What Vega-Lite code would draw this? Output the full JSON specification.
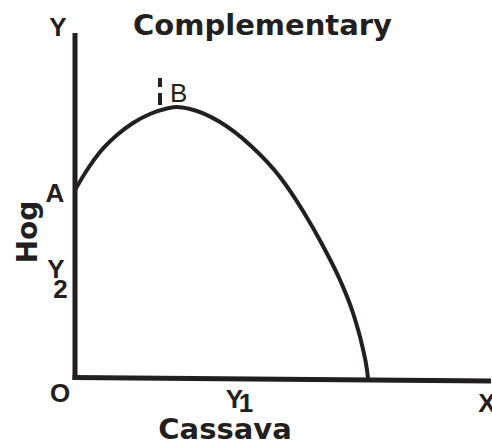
{
  "$schema": "https://vega.github.io/schema/vega-lite/v6.json",
  "width": 492,
  "height": 443,
  "autosize": {"type": "none"},
  "padding": 0,
  "background": "white",
  "config": {"view": {"stroke": null}},
  "layer": [
    {
      "data": {"values": [
        {"x": 0, "y": 188, "o": 0},
        {"x": 12, "y": 208, "o": 1},
        {"x": 25, "y": 226, "o": 2},
        {"x": 42, "y": 243, "o": 3},
        {"x": 58, "y": 255, "o": 4},
        {"x": 75, "y": 264, "o": 5},
        {"x": 92, "y": 269.5, "o": 6},
        {"x": 102, "y": 271, "o": 7},
        {"x": 115, "y": 269, "o": 8},
        {"x": 145, "y": 256, "o": 9},
        {"x": 175, "y": 233, "o": 10},
        {"x": 205, "y": 201, "o": 11},
        {"x": 228, "y": 167, "o": 12},
        {"x": 248, "y": 132, "o": 13},
        {"x": 265, "y": 98, "o": 14},
        {"x": 278, "y": 65, "o": 15},
        {"x": 287, "y": 33, "o": 16},
        {"x": 292, "y": 8, "o": 17},
        {"x": 293, "y": 0, "o": 18}
      ]},
      "mark": {"type": "line", "interpolate": "monotone", "strokeWidth": 4, "color": "#231f20", "strokeCap": "butt"},
      "encoding": {
        "x": {"field": "x", "type": "quantitative", "scale": {"domain": [-75, 417], "nice": false, "zero": false}, "axis": null},
        "y": {"field": "y", "type": "quantitative", "scale": {"domain": [-65, 378], "nice": false, "zero": false}, "axis": null},
        "order": {"field": "o", "type": "quantitative"}
      }
    },
    {
      "data": {"values": [
        {"x": 0, "y": -2, "x2": 0, "y2": 345},
        {"x": -2.5, "y": 0.5, "x2": 416, "y2": -3}
      ]},
      "mark": {"type": "rule", "strokeWidth": 5, "color": "#231f20", "strokeCap": "butt"},
      "encoding": {
        "x": {"field": "x", "type": "quantitative"},
        "y": {"field": "y", "type": "quantitative"},
        "x2": {"field": "x2"},
        "y2": {"field": "y2"}
      }
    },
    {
      "data": {"values": [{"x": 85, "y": 300, "y2": 273}]},
      "mark": {"type": "rule", "strokeWidth": 4, "color": "#231f20", "strokeDash": [9, 6, 20], "strokeCap": "butt"},
      "encoding": {
        "x": {"field": "x", "type": "quantitative"},
        "y": {"field": "y", "type": "quantitative"},
        "y2": {"field": "y2"}
      }
    },
    {
      "data": {"values": [
        {"label": "Complementary", "x": 187.5, "y": 343},
        {"label": "Cassava", "x": 150, "y": -61}
      ]},
      "mark": {"type": "text", "font": "DejaVu Sans", "fontWeight": "bold", "fontSize": 29, "color": "#231f20", "align": "center", "baseline": "alphabetic"},
      "encoding": {
        "x": {"field": "x", "type": "quantitative"},
        "y": {"field": "y", "type": "quantitative"},
        "text": {"field": "label"}
      }
    },
    {
      "data": {"values": [{"label": "Hog", "x": -38, "y": 146}]},
      "mark": {"type": "text", "font": "DejaVu Sans", "fontWeight": "bold", "fontSize": 28, "angle": 270, "color": "#231f20", "align": "center", "baseline": "alphabetic"},
      "encoding": {
        "x": {"field": "x", "type": "quantitative"},
        "y": {"field": "y", "type": "quantitative"},
        "text": {"field": "label"}
      }
    },
    {
      "data": {"values": [
        {"label": "Y", "x": -17, "y": 342},
        {"label": "A", "x": -20, "y": 176},
        {"label": "Y", "x": -19, "y": 100},
        {"label": "O", "x": -15, "y": -24},
        {"label": "Y", "x": 159.5, "y": -30},
        {"label": "X", "x": 412, "y": -34}
      ]},
      "mark": {"type": "text", "font": "Liberation Sans", "fontWeight": "bold", "fontSize": 26, "color": "#231f20", "align": "center", "baseline": "alphabetic"},
      "encoding": {
        "x": {"field": "x", "type": "quantitative"},
        "y": {"field": "y", "type": "quantitative"},
        "text": {"field": "label"}
      }
    },
    {
      "data": {"values": [
        {"label": "2", "x": -14.5, "y": 80},
        {"label": "1", "x": 171, "y": -34}
      ]},
      "mark": {"type": "text", "font": "Liberation Sans", "fontWeight": "bold", "fontSize": 26, "color": "#231f20", "align": "center", "baseline": "alphabetic"},
      "encoding": {
        "x": {"field": "x", "type": "quantitative"},
        "y": {"field": "y", "type": "quantitative"},
        "text": {"field": "label"}
      }
    },
    {
      "data": {"values": [{"label": "B", "x": 95, "y": 276}]},
      "mark": {"type": "text", "font": "Liberation Sans", "fontWeight": "normal", "fontSize": 26, "color": "#231f20", "align": "left", "baseline": "alphabetic"},
      "encoding": {
        "x": {"field": "x", "type": "quantitative"},
        "y": {"field": "y", "type": "quantitative"},
        "text": {"field": "label"}
      }
    }
  ]
}
